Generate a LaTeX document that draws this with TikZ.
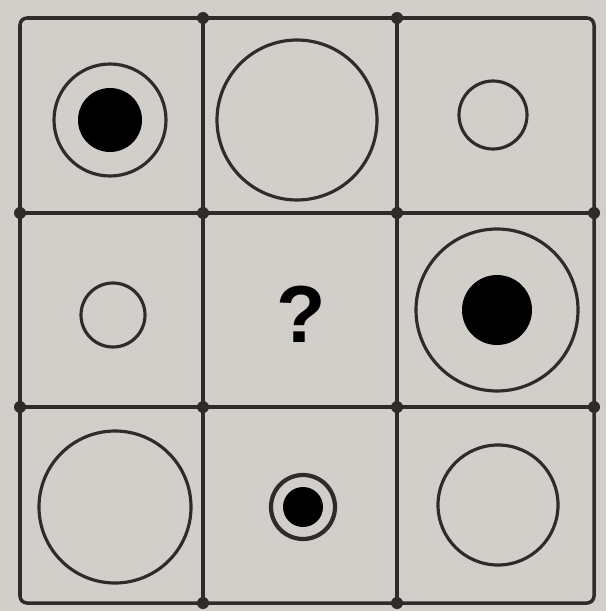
\documentclass[tikz,border=0pt]{standalone}
\usepackage{fontspec}
\newfontfamily\qfont{Liberation Sans}
\usepackage{xcolor}
\usetikzlibrary{positioning}
\definecolor{paper}{HTML}{D2CFCB}
\definecolor{ink}{HTML}{2E2C2B}
\tikzset{
  gridline/.style = {draw=ink, line width=2pt},
  ring/.style     = {draw=ink, line width=1.8pt},
  blob/.style     = {fill=black},
  joint/.style    = {fill=ink},
  qmark/.style    = {font=\qfont\bfseries\fontsize{46}{50}\selectfont, text=black, inner sep=0pt},
}
\begin{document}
\begin{tikzpicture}[x=0.02cm, y=-0.02cm]
  \fill[paper] (0,0) rectangle (606,611);
  \useasboundingbox (0,0) rectangle (606,611);

  % --- grid ---
  \draw[gridline, rounded corners=4pt] (20,18) rectangle (594,603);
  \draw[gridline] (203,18) -- (203,603);
  \draw[gridline] (397,18) -- (397,603);
  \draw[gridline] (20,213) -- (594,213);
  \draw[gridline] (20,407) -- (594,407);
  \foreach \x in {203,397} {
    \foreach \y in {18,213,407,603}
      \fill[joint] (\x,\y) circle (6);
  }
  \foreach \y in {213,407} {
    \fill[joint] (20,\y) circle (6);
    \fill[joint] (594,\y) circle (6);
  }

  % --- top row ---
  \draw[ring] (110,120) circle (56);
  \fill[blob] (110,120) circle (32);
  \draw[ring] (297,120) circle (80);
  \draw[ring] (493,115) circle (34);

  % --- middle row ---
  \draw[ring] (113,315) circle (32);
  \node[qmark] (q) at (301,314) {?};
  \draw[ring] (497,310) circle (81);
  \fill[blob] (497,310) circle (35);

  % --- bottom row ---
  \draw[ring] (115,507) circle (76);
  \draw[ring, line width=2.4pt] (303,507) circle (32);
  \fill[blob] (303,507) circle (20);
  \draw[ring] (498,505) circle (60);
\end{tikzpicture}
\end{document}
